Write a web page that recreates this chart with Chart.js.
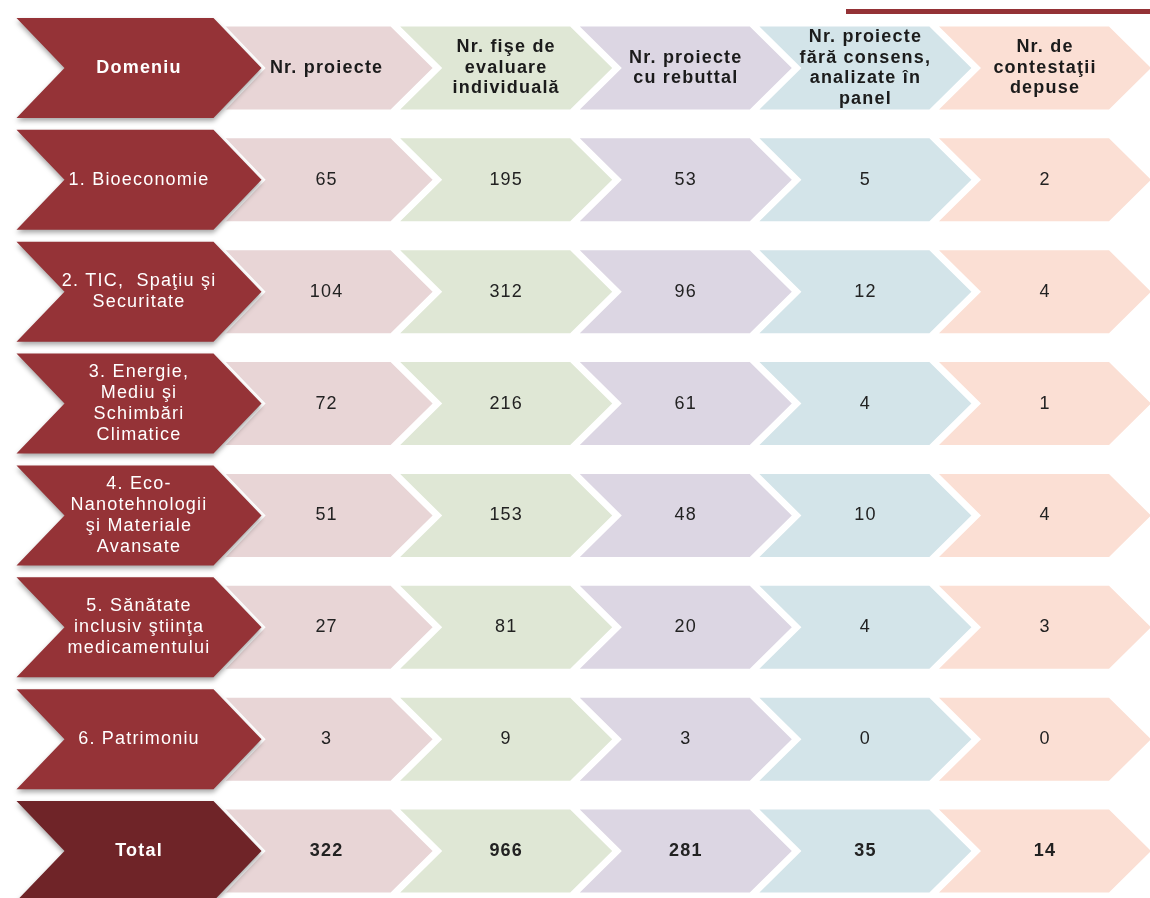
<!DOCTYPE html>
<html lang="ro">
<head>
  <meta charset="UTF-8">
  <title>Evaluare proiecte pe domenii</title>
  <script src="https://cdn.jsdelivr.net/npm/chart.js"></script>
  <style>
    body { margin: 0; background: #fff; }
    #wrap { position: relative; width: 1150px; height: 898px; }
    #topLine { position: absolute; left: 846px; top: 9px; width: 304px; height: 5px; background: #943236; }
  </style>
</head>
<body>
  <div id="wrap">
    <div id="topLine"></div>
    <canvas id="tableChart" width="1150" height="898"></canvas>
  </div>

  <script>
    // columns (first one is the domain column)
    const columns = ['Domeniu', 'Nr. proiecte', 'Nr. fişe de evaluare individuală',
      'Nr. proiecte cu rebuttal', 'Nr. proiecte fără consens, analizate în panel', 'Nr. de contestaţii depuse'];
    const headerLines = [
      ['Domeniu'],
      ['Nr. proiecte'],
      ['Nr. fişe de', 'evaluare', 'individuală'],
      ['Nr. proiecte', 'cu rebuttal'],
      ['Nr. proiecte', 'fără consens,', 'analizate în', 'panel'],
      ['Nr. de', 'contestaţii', 'depuse']
    ];

    // rows
    const domains = ['1. Bioeconomie', '2. TIC,  Spaţiu şi Securitate', '3. Energie, Mediu şi Schimbări Climatice',
      '4. Eco-Nanotehnologii şi Materiale Avansate', '5. Sănătate inclusiv ştiinţa medicamentului', '6. Patrimoniu', 'Total'];
    const domainLines = [
      ['1. Bioeconomie'],
      ['2. TIC,  Spaţiu şi', 'Securitate'],
      ['3. Energie,', 'Mediu şi', 'Schimbări', 'Climatice'],
      ['4. Eco-', 'Nanotehnologii', 'şi Materiale', 'Avansate'],
      ['5. Sănătate', 'inclusiv ştiinţa', 'medicamentului'],
      ['6. Patrimoniu'],
      ['Total']
    ];

    // values per column
    const nrProiecte   = [65, 104, 72, 51, 27, 3, 322];
    const nrFise       = [195, 312, 216, 153, 81, 9, 966];
    const nrRebuttal   = [53, 96, 61, 48, 20, 3, 281];
    const nrFaraConsens = [5, 12, 4, 10, 4, 0, 35];
    const nrContestatii = [2, 4, 1, 4, 3, 0, 14];

    const series = [nrProiecte, nrFise, nrRebuttal, nrFaraConsens, nrContestatii];
    const fills = ['#e8d5d6', '#dfe7d5', '#dcd6e3', '#d3e4e9', '#fbdfd4'];
    const RED = '#953337', RED_DARK = '#6f2428';
    const FONT = '"Liberation Sans", Arial, sans-serif';

    function chevronPath(ctx, left, top, w, h, depth) {
      const mid = top + h / 2;
      ctx.beginPath();
      ctx.moveTo(left, top);
      ctx.lineTo(left + w - depth, top);
      ctx.lineTo(left + w, mid);
      ctx.lineTo(left + w - depth, top + h);
      ctx.lineTo(left, top + h);
      ctx.lineTo(left + depth, mid);
      ctx.closePath();
    }

    function drawLines(ctx, lines, cx, cy, lh) {
      const y0 = cy - (lines.length - 1) * lh / 2;
      lines.forEach((t, i) => ctx.fillText(t, cx, y0 + i * lh));
    }

    function paleCell(ctx, cx, cy, color) {
      chevronPath(ctx, cx - 106, cy - 41.5, 212, 83, 42);
      ctx.fillStyle = color;
      ctx.fill();
    }

    function redCell(ctx, cx, cy, color) {
      chevronPath(ctx, cx - 122.5, cy - 50, 245, 100, 48);
      ctx.save();
      ctx.strokeStyle = '#fff';
      ctx.lineWidth = 6;
      ctx.stroke();
      ctx.shadowColor = 'rgba(0,0,0,0.35)';
      ctx.shadowBlur = 5;
      ctx.shadowOffsetY = 3;
      ctx.fillStyle = color;
      ctx.fill();
      ctx.restore();
    }

    const chevronPlugin = {
      id: 'chevrons',
      afterDatasetsDraw(chart) {
        const ctx = chart.ctx;
        const xs = chart.scales.x, ys = chart.scales.y;
        ctx.save();
        ctx.textAlign = 'center';
        ctx.textBaseline = 'middle';
        ctx.letterSpacing = '1.2px';

        // header row
        const hy = ys.getPixelForValue(0);
        for (let c = 1; c < columns.length; c++) {
          const cx = xs.getPixelForValue(c);
          paleCell(ctx, cx, hy, fills[c - 1]);
          ctx.fillStyle = '#1b1b1b';
          ctx.font = 'bold 18px ' + FONT;
          drawLines(ctx, headerLines[c], cx, hy, 20.5);
        }
        const rx = xs.getPixelForValue(0) - 8;
        redCell(ctx, rx, hy, RED);
        ctx.fillStyle = '#fff';
        ctx.font = 'bold 18px ' + FONT;
        drawLines(ctx, headerLines[0], rx, hy, 21);

        // body rows: data cells from the dataset elements
        chart.data.datasets.forEach((ds, d) => {
          const meta = chart.getDatasetMeta(d);
          meta.data.forEach((pt, i) => {
            paleCell(ctx, pt.x, pt.y, fills[d]);
            const isTotal = domains[i] === 'Total';
            ctx.fillStyle = '#222';
            ctx.font = (isTotal ? 'bold ' : '') + '18px ' + FONT;
            ctx.fillText(String(ds.data[i].v), pt.x, pt.y);
          });
        });

        // domain column
        domains.forEach((d, i) => {
          const cy = ys.getPixelForValue(i + 1);
          const isTotal = d === 'Total';
          redCell(ctx, rx, cy, isTotal ? RED_DARK : RED);
          ctx.fillStyle = '#fff';
          ctx.font = (isTotal ? 'bold ' : '') + '18px ' + FONT;
          drawLines(ctx, domainLines[i], rx, cy, 21);
        });
        ctx.restore();
      }
    };

    const datasets = series.map((vals, s) => ({
      label: columns[s + 1],
      data: vals.map((v, i) => ({ x: columns[s + 1], y: domains[i], v: v })),
      pointRadius: 0,
      pointHoverRadius: 0,
      showLine: false
    }));

    new Chart(document.getElementById('tableChart').getContext('2d'), {
      type: 'scatter',
      data: { datasets: datasets },
      options: {
        responsive: false,
        animation: false,
        events: [],
        layout: { padding: { left: 147, right: 105, top: 68, bottom: 47 } },
        plugins: { legend: { display: false }, tooltip: { enabled: false } },
        scales: {
          x: { type: 'category', labels: columns, offset: false, display: false },
          y: { type: 'category', labels: ['header'].concat(domains), offset: false, display: false }
        }
      },
      plugins: [chevronPlugin]
    });
  </script>
</body>
</html>
